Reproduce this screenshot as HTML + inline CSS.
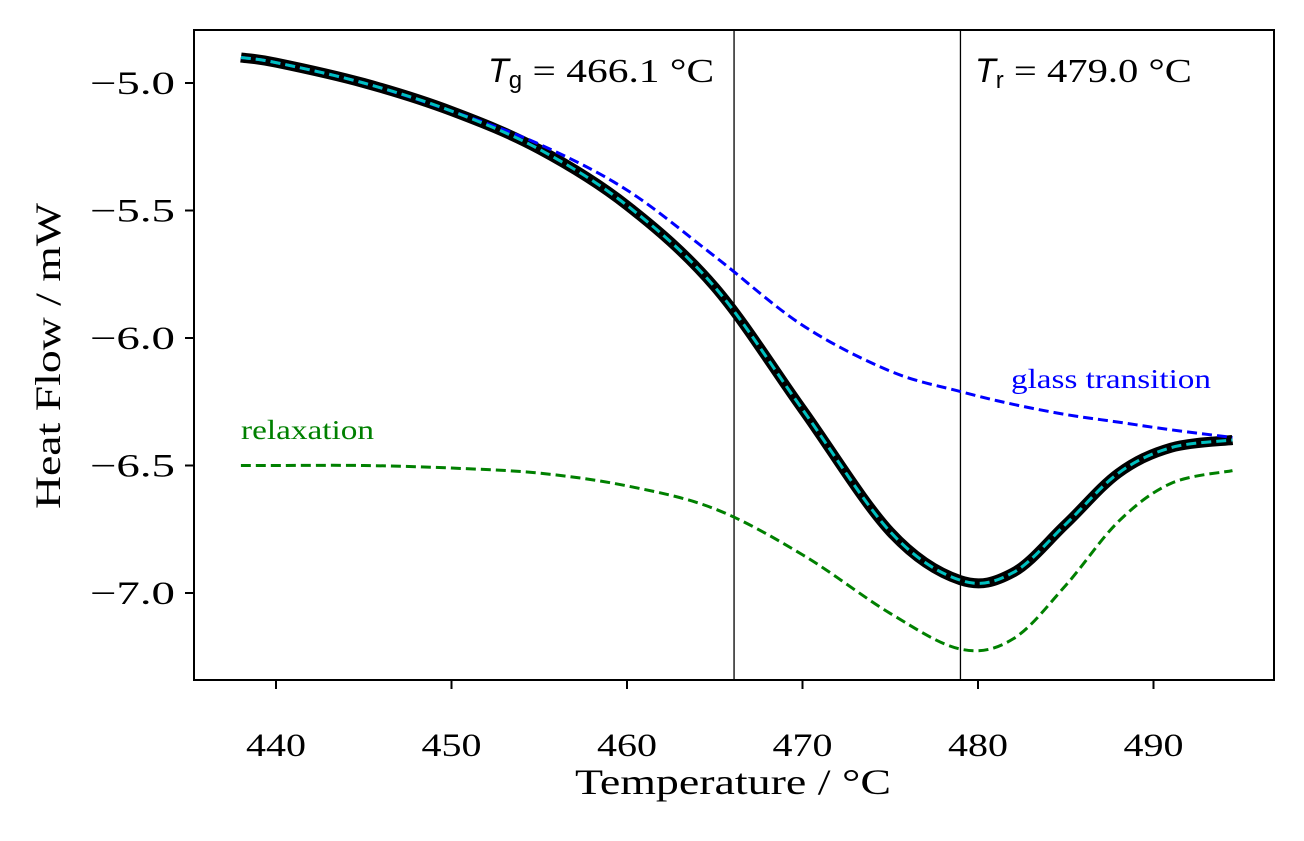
<!DOCTYPE html>
<html><head><meta charset="utf-8"><style>
body{margin:0;background:#fff}
svg text{font-family:"Liberation Serif",serif;fill:#000}
</style></head><body>
<svg id="chart" width="1304" height="836" xmlns="http://www.w3.org/2000/svg">
<rect x="194" y="30" width="1080" height="650" fill="none" stroke="#000" stroke-width="2"/>
<g id="xt"></g><g id="yt"></g><g id="lines"></g>
<text x="733" y="794" font-size="36" text-anchor="middle" textLength="316" lengthAdjust="spacingAndGlyphs">Temperature / °C</text>
<text transform="translate(60,356) rotate(-90)" font-size="36" text-anchor="middle" textLength="306" lengthAdjust="spacingAndGlyphs">Heat Flow / mW</text>
<text x="488" y="82" font-size="34"><tspan font-family="Liberation Sans" font-style="italic">T</tspan><tspan font-family="Liberation Sans" font-size="24" dy="6">g</tspan><tspan dy="-6" textLength="192" lengthAdjust="spacingAndGlyphs"> = 466.1 °C</tspan></text>
<text x="975" y="82" font-size="34"><tspan font-family="Liberation Sans" font-style="italic">T</tspan><tspan font-family="Liberation Sans" font-size="24" dy="6">r</tspan><tspan dy="-6" textLength="188" lengthAdjust="spacingAndGlyphs"> = 479.0 °C</tspan></text>
<text x="1011" y="388" font-size="27" textLength="200" lengthAdjust="spacingAndGlyphs" style="fill:#0000ff">glass transition</text>
<text x="241" y="439" font-size="27" textLength="133" lengthAdjust="spacingAndGlyphs" style="fill:#008000">relaxation</text>
</svg>
<script>
const xTicks=[440,450,460,470,480,490];
const yTicks=[-5.0,-5.5,-6.0,-6.5,-7.0];
const temps=[438,440,445,450,455,460,465,470,475,479,482,485,488,491,494.5];
const total=[-4.90,-4.92,-5.00,-5.11,-5.26,-5.48,-5.80,-6.28,-6.76,-6.95,-6.92,-6.73,-6.53,-6.43,-6.40];
const glass=[-4.90,-4.92,-5.00,-5.11,-5.24,-5.42,-5.68,-5.95,-6.13,-6.21,-6.26,-6.30,-6.33,-6.36,-6.39];
const relax=[-6.50,-6.50,-6.50,-6.51,-6.53,-6.58,-6.67,-6.85,-7.08,-7.22,-7.18,-6.97,-6.72,-6.57,-6.52];
const tg=466.1, tr=479.0;
const X=t=>276+(t-440)*17.55;
const Y=v=>83+(-5.0-v)*255;
const NS="http://www.w3.org/2000/svg";
function mk(tag,attrs,parent){const e=document.createElementNS(NS,tag);for(const k in attrs)e.setAttribute(k,attrs[k]);document.getElementById(parent).appendChild(e);return e;}
xTicks.forEach(t=>{
 const l=mk('line',{x1:X(t),x2:X(t),y1:680,y2:689,stroke:'#000','stroke-width':2},'xt');
 
 
 const tx=mk('text',{x:X(t),y:756,'font-size':33,'text-anchor':'middle',textLength:60,lengthAdjust:'spacingAndGlyphs'},'xt');tx.textContent=t;
 
 
});
yTicks.forEach(v=>{
 const l=mk('line',{x1:185,x2:194,y1:Y(v),y2:Y(v),stroke:'#000','stroke-width':2},'yt');
 
 
 const tx=mk('text',{x:90,y:Y(v)+11,'font-size':33,textLength:85,lengthAdjust:'spacingAndGlyphs'},'yt');tx.textContent='\u2212'+Math.abs(v).toFixed(1);
 
 
});
function path(vals){
 const p=temps.map((t,i)=>[X(t),Y(vals[i])]);
 let d='M'+p[0][0]+','+p[0][1];
 for(let i=0;i<p.length-1;i++){
  const p0=p[Math.max(0,i-1)],p1=p[i],p2=p[i+1],p3=p[Math.min(p.length-1,i+2)];
  d+=' C'+(p1[0]+(p2[0]-p0[0])/6)+','+(p1[1]+(p2[1]-p0[1])/6)+' '+(p2[0]-(p3[0]-p1[0])/6)+','+(p2[1]-(p3[1]-p1[1])/6)+' '+p2[0]+','+p2[1];
 }
 return d;
}
[[tg,'tg-line'],[tr,'tr-line']].forEach(([t,n])=>{
 const l=mk('line',{x1:X(t),x2:X(t),y1:30,y2:680,stroke:'#000','stroke-width':1.3},'lines');
 
 
});
let e;
e=mk('path',{d:path(relax),fill:'none',stroke:'#008000','stroke-width':3,'stroke-dasharray':'10,5'},'lines');


e=mk('path',{d:path(total),fill:'none',stroke:'#000','stroke-width':10},'lines');


e=mk('path',{d:path(glass),fill:'none',stroke:'#0000ff','stroke-width':3,'stroke-dasharray':'10,5'},'lines');


e=mk('path',{d:path(total),fill:'none',stroke:'#00bfbf','stroke-width':3,'stroke-dasharray':'10,5'},'lines');


</script>
</body></html>
